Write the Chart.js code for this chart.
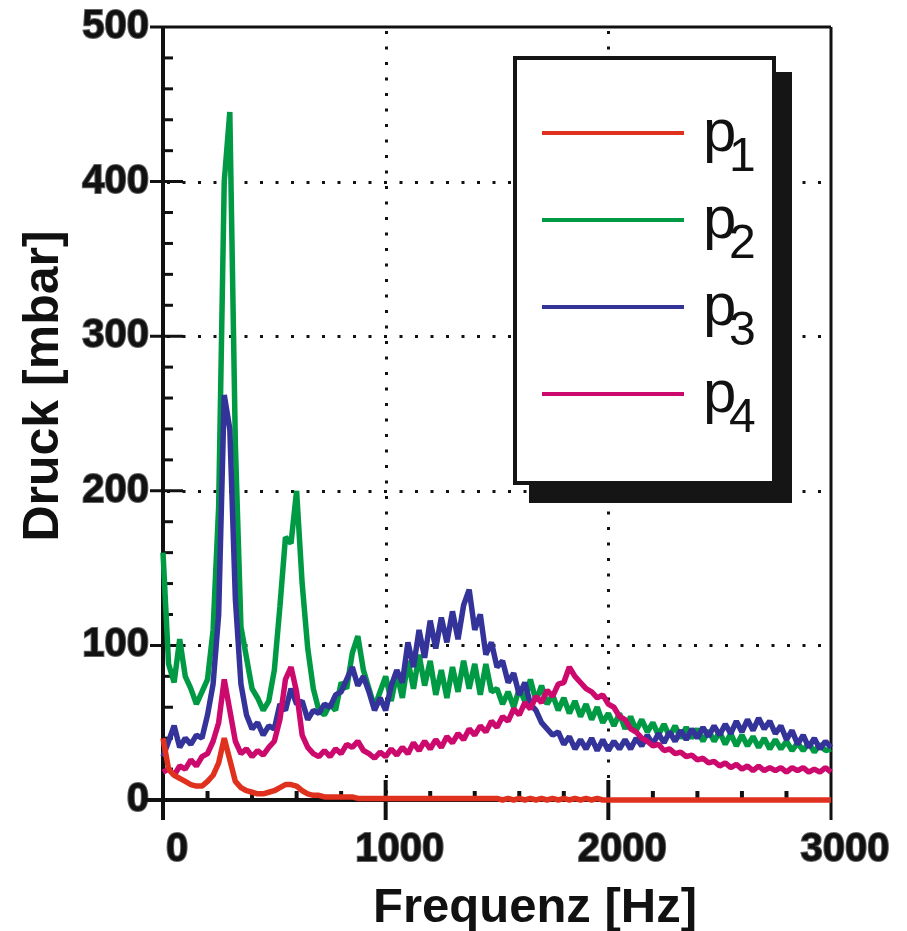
<!DOCTYPE html>
<html>
<head>
<meta charset="utf-8">
<script src="https://cdn.jsdelivr.net/npm/chart.js@4/dist/chart.umd.min.js"></script>
<style>
  html, body { margin: 0; padding: 0; background: #fff; }
</style>
</head>
<body>
<canvas id="grafico" width="907" height="931"></canvas>
<script>
// Frequenzachse [Hz]
const freqHz = [
  0, 25, 50, 75, 100, 125, 150, 175, 200, 225, 250, 275, 300, 325, 350, 375, 400, 425, 450, 475,
  500, 525, 550, 575, 600, 625, 650, 675, 700, 725, 750, 775, 800, 825, 850, 875, 900, 925, 950, 975,
  1000, 1025, 1050, 1075, 1100, 1125, 1150, 1175, 1200, 1225, 1250, 1275, 1300, 1325, 1350, 1375, 1400, 1425, 1450, 1475,
  1500, 1525, 1550, 1575, 1600, 1625, 1650, 1675, 1700, 1725, 1750, 1775, 1800, 1825, 1850, 1875, 1900, 1925, 1950, 1975,
  2000, 2025, 2050, 2075, 2100, 2125, 2150, 2175, 2200, 2225, 2250, 2275, 2300, 2325, 2350, 2375, 2400, 2425, 2450, 2475,
  2500, 2525, 2550, 2575, 2600, 2625, 2650, 2675, 2700, 2725, 2750, 2775, 2800, 2825, 2850, 2875, 2900, 2925, 2950, 2975,
  3000
];

// Druck [mbar]
const p1 = [
  40, 20, 16, 14, 12, 10, 9, 9, 12, 16, 24, 40, 26, 12, 8, 6, 5, 4, 4, 5,
  6, 8, 10, 10, 9, 6, 4, 3, 3, 2, 2, 2, 2, 2, 2, 1, 1, 1, 1, 1,
  1, 1, 1, 1, 1, 1, 1, 1, 1, 1, 1, 1, 1, 1, 1, 1, 1, 1, 1, 1,
  1, 0, 1, 0, 1, 0, 1, 0, 1, 0, 1, 0, 1, 0, 1, 0, 1, 0, 1, 0,
  0, 0, 0, 0, 0, 0, 0, 0, 0, 0, 0, 0, 0, 0, 0, 0, 0, 0, 0, 0,
  0, 0, 0, 0, 0, 0, 0, 0, 0, 0, 0, 0, 0, 0, 0, 0, 0, 0, 0, 0,
  0
];
const p2 = [
  160, 88, 76, 104, 80, 72, 62, 70, 78, 110, 190, 400, 445, 230, 112, 92, 72, 66, 58, 64,
  84, 125, 170, 166, 200, 140, 98, 72, 58, 55, 62, 58, 76, 72, 95, 106, 84, 72, 60, 70,
  80, 64, 82, 66, 90, 72, 94, 74, 90, 68, 84, 66, 86, 70, 90, 72, 88, 68, 88, 70,
  72, 62, 70, 60, 72, 64, 78, 64, 74, 62, 68, 58, 66, 56, 64, 54, 62, 52, 60, 50,
  56, 48, 56, 46, 54, 45, 52, 44, 50, 42, 49, 41, 48, 40, 47, 40, 46, 38, 45, 38,
  44, 36, 43, 35, 42, 35, 41, 34, 40, 33, 39, 33, 38, 32, 37, 32, 37, 31, 36, 32,
  33
];
const p3 = [
  28, 38, 48, 34, 40, 36, 42, 40, 55, 75, 120, 262, 240, 130, 75, 55, 46, 50, 42, 48,
  46, 62, 58, 72, 62, 64, 52, 58, 56, 62, 60, 68, 70, 78, 86, 74, 80, 70, 58, 66,
  58, 74, 84, 76, 102, 86, 110, 92, 116, 98, 118, 102, 122, 104, 126, 136, 110, 120, 94, 102,
  86, 90, 76, 82, 68, 76, 62, 58, 50, 46, 42, 44, 36, 41, 33, 39, 33, 40, 32, 39,
  32, 38, 33, 39, 33, 40, 35, 42, 36, 43, 37, 44, 38, 45, 39, 46, 40, 47, 41, 48,
  42, 49, 43, 51, 44, 52, 45, 53, 46, 51, 43, 48, 39, 45, 36, 42, 34, 40, 33, 38,
  34
];
const p4 = [
  18, 20, 16, 22, 20, 26, 22, 28, 30, 38, 50, 78, 58, 38, 30, 33, 28, 32, 29, 34,
  38, 52, 78, 86, 70, 42, 34, 30, 28, 32, 28, 33, 30, 36, 34, 38, 32, 30, 27, 31,
  28, 33, 29, 34, 30, 37, 32, 38, 33, 39, 34, 41, 37, 43, 39, 46, 42, 48, 44, 51,
  47, 54, 51, 59, 55, 63, 59, 67, 63, 71, 67, 75, 76, 86, 80, 76, 72, 70, 66, 68,
  62, 60, 54, 52, 46, 44, 40, 38, 35, 36, 32, 33, 30, 31, 28, 29, 26, 27, 24, 25,
  22, 24, 21, 23, 20, 22, 19, 22, 19, 21, 19, 21, 18, 21, 19, 21, 18, 20, 18, 21,
  18
];

const etiquetas = ['p₁', 'p₂', 'p₃', 'p₄'];
const colores = ['#e0301e', '#009a44', '#33339a', '#cc0a6e'];
const reihen = [p1, p2, p3, p4];
const ordenDibujo = [0, 3, 2, 1]; // p1 oben, p2 ganz unten

const yMajor = [100, 200, 300, 400];
const xMajor = [1000, 2000];

const fuente = "'Liberation Sans', Arial, sans-serif";

// Achsen, Gitter und Ticks (hinter den Kurven)
const achsenPlugin = {
  id: 'achsen',
  beforeDatasetsDraw(chart) {
    const { ctx, chartArea: a, scales } = chart;
    const xs = scales.x, ys = scales.y;
    ctx.save();
    ctx.strokeStyle = '#111';

    // gepunktetes Gitter
    ctx.lineWidth = 3;
    ctx.setLineDash([3, 12.5]);
    yMajor.forEach(v => {
      const y = Math.round(ys.getPixelForValue(v)) + 0.5;
      ctx.beginPath(); ctx.moveTo(a.left + 4, y); ctx.lineTo(a.right, y); ctx.stroke();
    });
    xMajor.forEach(v => {
      const x = Math.round(xs.getPixelForValue(v)) + 0.5;
      ctx.beginPath(); ctx.moveTo(x, a.top + 4); ctx.lineTo(x, a.bottom); ctx.stroke();
    });
    ctx.setLineDash([]);

    // Rahmen oben / rechts
    ctx.lineWidth = 3;
    ctx.beginPath();
    ctx.moveTo(a.left - 13, a.top); ctx.lineTo(a.right, a.top);
    ctx.moveTo(a.right, a.top); ctx.lineTo(a.right, a.bottom + 20);
    ctx.stroke();

    // Achsen links / unten
    ctx.lineWidth = 4;
    ctx.beginPath();
    ctx.moveTo(a.left, a.top); ctx.lineTo(a.left, a.bottom + 20);
    ctx.moveTo(a.left - 20, a.bottom); ctx.lineTo(a.right, a.bottom);
    ctx.stroke();

    // y-Ticks
    ctx.lineWidth = 3;
    for (let v = 20; v < 500; v += 20) {
      const y = ys.getPixelForValue(v);
      ctx.beginPath();
      if (v % 100 === 0) { ctx.moveTo(a.left - 13, y); ctx.lineTo(a.left + 20, y); }
      else { ctx.moveTo(a.left, y); ctx.lineTo(a.left + 10, y); }
      ctx.stroke();
    }
    // x-Ticks
    ctx.lineWidth = 4;
    for (let v = 200; v < 3000; v += 200) {
      const x = xs.getPixelForValue(v);
      ctx.beginPath();
      if (v % 1000 === 0) { ctx.moveTo(x, a.bottom - 20); ctx.lineTo(x, a.bottom + 20); }
      else { ctx.moveTo(x, a.bottom - 9); ctx.lineTo(x, a.bottom); }
      ctx.stroke();
    }
    ctx.restore();
  }
};

// Achsentitel und Legende mit Schatten
const legendePlugin = {
  id: 'legende',
  afterDraw(chart) {
    const ctx = chart.ctx;
    ctx.save();
    ctx.fillStyle = '#111';
    ctx.textAlign = 'center';
    ctx.textBaseline = 'alphabetic';
    ctx.font = 'bold 49px ' + fuente;
    ctx.fillText('Frequenz [Hz]', 535, 922);
    ctx.save();
    ctx.translate(58, 386);
    ctx.rotate(-Math.PI / 2);
    ctx.font = 'bold 50px ' + fuente;
    ctx.fillText('Druck [mbar]', 0, 0);
    ctx.restore();

    // Legende
    const bx = 513, by = 56, bw = 263, bh = 429;
    ctx.fillStyle = '#151515';
    ctx.fillRect(bx + 16, by + 16, bw, bh + 2);
    ctx.fillStyle = '#fff';
    ctx.fillRect(bx, by, bw, bh);
    ctx.strokeStyle = '#151515';
    ctx.lineWidth = 4;
    ctx.strokeRect(bx + 2, by + 2, bw - 4, bh - 4);

    chart.data.datasets.forEach((ds, i) => {
      const y = 133 + i * 87;
      ctx.strokeStyle = ds.borderColor;
      ctx.lineWidth = 4;
      ctx.beginPath(); ctx.moveTo(542, y); ctx.lineTo(684, y); ctx.stroke();
      const base = ds.label.charAt(0);
      const sub = String(ds.label.charCodeAt(1) - 0x2080);
      ctx.fillStyle = '#111';
      ctx.textAlign = 'left';
      ctx.font = "60px 'Liberation Sans Narrow', 'Liberation Sans', sans-serif";
      ctx.fillText(base, 703, y + 18);
      ctx.font = "48px 'Liberation Sans Narrow', 'Liberation Sans', sans-serif";
      ctx.fillText(sub, 729, y + 38);
    });
    ctx.restore();
  }
};

const tickFont = { family: fuente, size: 40, weight: 'bold' };

const grafico = new Chart(document.getElementById('grafico').getContext('2d'), {
  type: 'line',
  data: {
    datasets: reihen.map((werte, i) => ({
      label: etiquetas[i],
      data: freqHz.map((f, j) => ({ x: f, y: werte[j] })),
      borderColor: colores[i],
      borderWidth: 5.5,
      pointRadius: 0,
      tension: 0,
      borderJoinStyle: 'bevel',
      order: ordenDibujo[i],
      clip: 6
    }))
  },
  options: {
    responsive: false,
    animation: false,
    events: [],
    layout: { padding: { left: 0, top: 27, right: 76, bottom: 0 } },
    plugins: { legend: { display: false }, tooltip: { enabled: false } },
    scales: {
      x: {
        type: 'linear',
        min: 0, max: 3000,
        grid: { display: false, drawTicks: false },
        border: { display: false },
        ticks: {
          stepSize: 1000, font: tickFont, color: '#111', padding: 26, labelOffset: 14,
          maxRotation: 0, textStrokeColor: '#666', textStrokeWidth: 2,
          callback: v => String(v)
        },
        afterFit(s) { s.height = 131; s.paddingLeft = 0; s.paddingRight = 0; }
      },
      y: {
        min: 0, max: 500,
        grid: { display: false, drawTicks: false },
        border: { display: false },
        ticks: {
          stepSize: 100, font: tickFont, color: '#111', padding: 14,
          textStrokeColor: '#666', textStrokeWidth: 2
        },
        afterFit(s) { s.width = 163; s.paddingTop = 0; s.paddingBottom = 0; }
      }
    }
  },
  plugins: [achsenPlugin, legendePlugin]
});
</script>
</body>
</html>
